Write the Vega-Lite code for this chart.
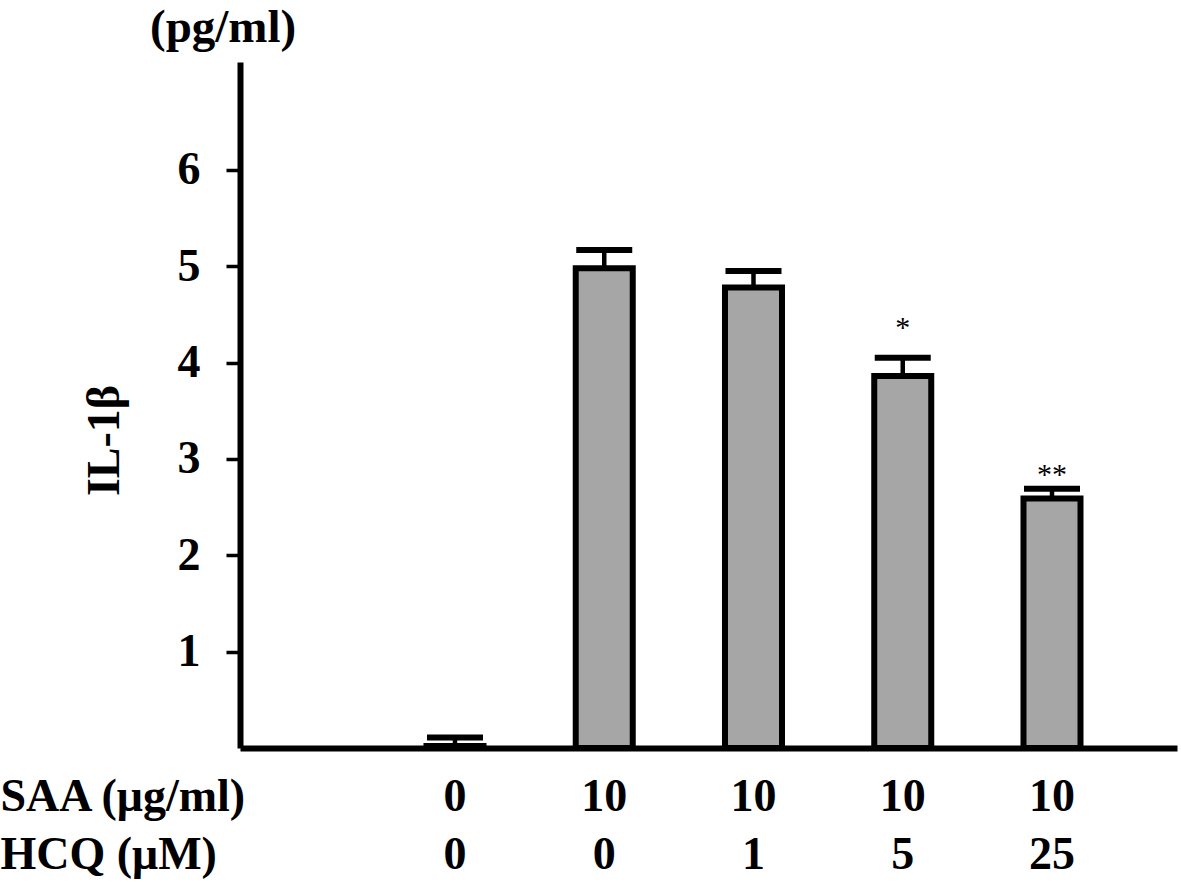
{
  "$schema": "https://vega.github.io/schema/vega-lite/v6.json",
  "width": 937,
  "height": 686,
  "autosize": "none",
  "padding": {"left": 240, "top": 62, "right": 4, "bottom": 134},
  "background": "white",
  "config": {"view": {"stroke": null}, "font": "Liberation Serif"},
  "title": {
    "text": "(pg/ml)",
    "anchor": "start",
    "frame": "group",
    "dx": -90,
    "offset": 10,
    "fontSize": 47,
    "font": "Liberation Serif",
    "fontWeight": "bold",
    "color": "black"
  },
  "data": {
    "values": [
      {"group": "0|0", "mean": 0.02, "hi": 0.11, "sig": ""},
      {"group": "10|0", "mean": 4.98, "hi": 5.17, "sig": ""},
      {"group": "10|1", "mean": 4.78, "hi": 4.95, "sig": ""},
      {"group": "10|5", "mean": 3.86, "hi": 4.05, "sig": "*"},
      {"group": "10|25", "mean": 2.59, "hi": 2.69, "sig": "**"}
    ]
  },
  "encoding": {
    "x": {
      "field": "group",
      "type": "nominal",
      "sort": null,
      "scale": {"paddingInner": 0.618, "paddingOuter": 0.948, "align": 0.659},
      "axis": {
        "title": ["SAA (μg/ml)", "HCQ (μM)"],
        "titleX": -240,
        "titleY": 26,
        "titleAlign": "left",
        "titleBaseline": "top",
        "titleFontSize": 46,
        "titleFontWeight": "bold",
        "titleFont": "Liberation Serif",
        "titleLineHeight": 58,
        "titleColor": "black",
        "labelExpr": "split(datum.label, '|')",
        "labelAngle": 0,
        "labelFontSize": 46,
        "labelFontWeight": "bold",
        "labelFont": "Liberation Serif",
        "labelColor": "black",
        "labelPadding": 26,
        "labelLineHeight": 58,
        "labelOverlap": false,
        "labelBound": false,
        "labelFlush": false,
        "ticks": false,
        "domainColor": "black",
        "domainWidth": 6
      }
    }
  },
  "layer": [
    {
      "mark": {"type": "bar", "fill": "#a6a6a6", "stroke": "black", "strokeWidth": 6},
      "encoding": {
        "y": {
          "field": "mean",
          "type": "quantitative",
          "scale": {"domain": [0, 7.12], "nice": false, "zero": true},
          "axis": {
            "values": [1, 2, 3, 4, 5, 6],
            "format": "d",
            "title": "IL-1β",
            "titleAngle": -90,
            "titleX": -136,
            "titleY": 378,
            "titleAlign": "center",
            "titleBaseline": "middle",
            "titleFontSize": 46,
            "titleFontWeight": "bold",
            "titleFont": "Liberation Serif",
            "titleColor": "black",
            "labelFontSize": 46,
            "labelFontWeight": "bold",
            "labelFont": "Liberation Serif",
            "labelColor": "black",
            "labelPadding": 26,
            "tickSize": 14,
            "tickWidth": 3.5,
            "tickColor": "black",
            "domainColor": "black",
            "domainWidth": 6,
            "grid": false
          }
        }
      }
    },
    {
      "mark": {"type": "rule", "strokeWidth": 4.5, "color": "black"},
      "encoding": {
        "y": {"field": "mean", "type": "quantitative"},
        "y2": {"field": "hi"}
      }
    },
    {
      "mark": {"type": "tick", "orient": "horizontal", "size": 56, "thickness": 6, "color": "black", "opacity": 1},
      "encoding": {
        "y": {"field": "hi", "type": "quantitative"}
      }
    },
    {
      "transform": [{"filter": "datum.sig == '*'"}],
      "mark": {"type": "text", "font": "Liberation Serif", "fontSize": 30, "dy": -30, "baseline": "middle", "color": "black"},
      "encoding": {
        "y": {"field": "hi", "type": "quantitative"},
        "text": {"field": "sig"}
      }
    },
    {
      "transform": [{"filter": "datum.sig == '**'"}],
      "mark": {"type": "text", "font": "Liberation Serif", "fontSize": 30, "dy": -14, "baseline": "middle", "color": "black"},
      "encoding": {
        "y": {"field": "hi", "type": "quantitative"},
        "text": {"field": "sig"}
      }
    }
  ]
}
